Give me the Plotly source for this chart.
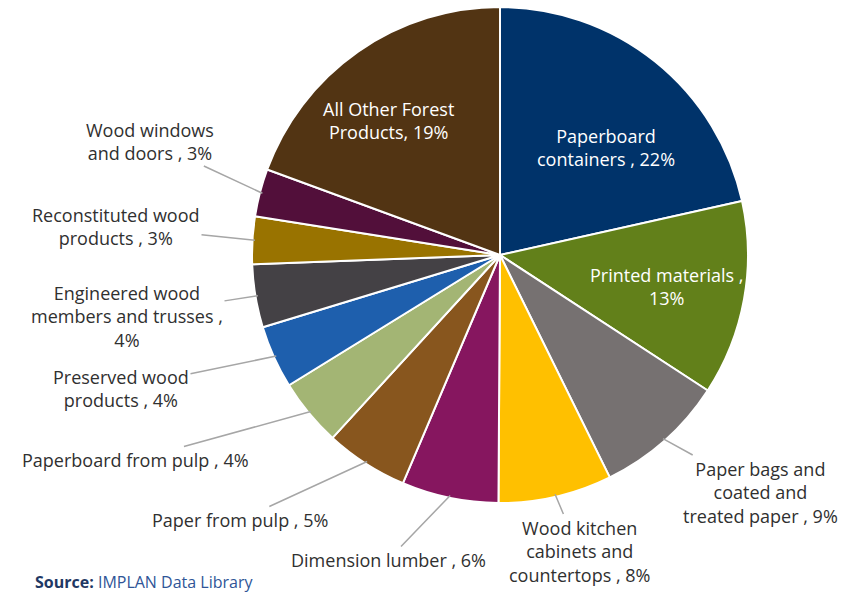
import math
import plotly.graph_objects as go

categories = [
    "Paperboard containers", "Printed materials", "Paper bags and coated and treated paper",
    "Wood kitchen cabinets and countertops", "Dimension lumber", "Paper from pulp",
    "Paperboard from pulp", "Preserved wood products", "Engineered wood members and trusses",
    "Reconstituted wood products", "Wood windows and doors", "All Other Forest Products",
]
values = [21.5, 12.7, 8.5, 7.4, 6.3, 5.4, 4.4, 4.1, 4.1, 3.1, 3.1, 19.4]
pct_labels = ["22%", "13%", "9%", "8%", "6%", "5%", "4%", "4%", "4%", "3%", "3%", "19%"]
label_text = [
    "Paperboard<br>containers , 22%",
    "Printed materials ,<br>13%",
    "Paper bags and<br>coated and<br>treated paper , 9%",
    "Wood kitchen<br>cabinets and<br>countertops , 8%",
    "Dimension lumber , 6%",
    "Paper from pulp , 5%",
    "Paperboard from pulp , 4%",
    "Preserved wood<br>products , 4%",
    "Engineered wood<br>members and trusses ,<br>4%",
    "Reconstituted wood<br>products , 3%",
    "Wood windows<br>and doors , 3%",
    "All Other Forest<br>Products, 19%",
]
colors = ["#00336A", "#62801A", "#767171", "#FFC000", "#86165F", "#88561E",
          "#A3B574", "#1E5FAD", "#444145", "#997300", "#520F3A", "#523413"]

# layout (pixels)
W, H = 848, 593
CX, CY, R = 500, 255, 248
FONT = "Open Sans"
inside = [True, True, False, False, False, False, False, False, False, False, False, True]
text_pos = [(606, 147), (667, 287), (760, 492), (579, 551), (388, 560), (240, 520),
            (135, 460), (121, 388), (127, 316), (116, 226), (150, 141), (388, 120)]

fig = go.Figure(go.Pie(
    labels=categories, values=values, sort=False, direction="clockwise", rotation=0,
    marker=dict(colors=colors, line=dict(color="white", width=2)),
    textinfo="none", hoverinfo="label+percent", showlegend=False,
    domain=dict(x=[(CX - R) / W, (CX + R) / W], y=[1 - (CY + R) / H, 1 - (CY - R) / H]),
))

total = sum(values)
cum = 0
annotations = []
for i, v in enumerate(values):
    mid = (cum + v / 2) / total * 2 * math.pi
    cum += v
    tx, ty = text_pos[i]
    if inside[i]:
        annotations.append(dict(x=tx / W, y=1 - ty / H, xref="paper", yref="paper",
                                xanchor="center", yanchor="middle",
                                text=label_text[i], showarrow=False,
                                font=dict(color="white", size=18, family=FONT)))
    else:
        ex = CX + R * 0.99 * math.sin(mid)
        ey = CY - R * 0.99 * math.cos(mid)
        annotations.append(dict(x=ex / W, y=1 - ey / H, xref="paper", yref="paper",
                                ax=tx - ex, ay=ty - ey,
                                xanchor="center", yanchor="middle",
                                text=label_text[i], showarrow=True, arrowhead=0,
                                arrowwidth=1.5, arrowcolor="#A6A6A6",
                                font=dict(color="#303030", size=18, family=FONT)))

annotations.append(dict(x=33 / W, y=1 - 582 / H, xref="paper", yref="paper",
                        xanchor="left", yanchor="middle",
                        text="<b><span style='color:#1F3864'>Source:</span></b> IMPLAN Data Library",
                        showarrow=False, font=dict(color="#2F5597", size=16, family=FONT)))

fig.update_layout(width=W, height=H, margin=dict(l=0, r=0, t=0, b=0),
                  paper_bgcolor="white", plot_bgcolor="white", annotations=annotations)
fig.write_html("out.html")
